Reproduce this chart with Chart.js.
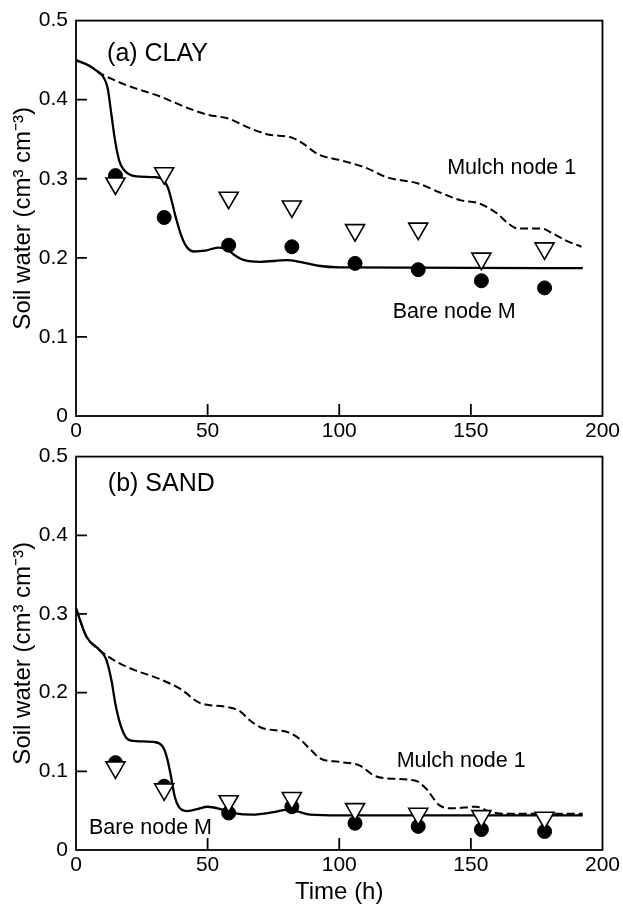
<!DOCTYPE html>
<html>
<head>
  <meta charset="utf-8">
  <title>Soil water</title>
  <script src="https://cdn.jsdelivr.net/npm/chart.js"></script>
  <style>
    body { margin: 0; background: #fff; }
    canvas { position: absolute; left: 0; }
    #clay { top: 0; }
    #sand { top: 436px; }
  </style>
</head>
<body>
  <canvas id="clay" width="623" height="450"></canvas>
  <canvas id="sand" width="623" height="471"></canvas>

  <script>
    // sampling times of the measured points (h)
    const obsTime = [15, 33.5, 58, 82, 106, 130, 154, 178];

    // (a) clay
    const clayBareObs  = [0.304, 0.251, 0.216, 0.214, 0.193, 0.185, 0.171, 0.162];
    const clayMulchObs = [0.294, 0.307, 0.276, 0.265, 0.235, 0.237, 0.199, 0.212];

    const clayMulchT = [0, 5, 9, 15, 22, 32, 42, 50, 58, 66, 73, 82, 86, 92, 101, 110, 118, 130, 138, 146, 153, 160, 164, 168, 177, 181, 186, 192];
    const clayMulchW = [0.450, 0.443, 0.434, 0.424, 0.415, 0.404, 0.390, 0.381, 0.376, 0.364, 0.356, 0.352, 0.345, 0.331, 0.323, 0.314, 0.302, 0.294, 0.283, 0.273, 0.269, 0.256, 0.244, 0.237, 0.237, 0.231, 0.222, 0.214];

    const clayBareT = [0, 5, 8, 10.5, 12, 13.5, 15, 16.5, 18, 20, 23, 30, 33, 35, 36.5, 38, 40, 42, 45, 49, 54, 57, 60, 64, 70, 80, 85, 92, 100, 192.5];
    const clayBareW = [0.450, 0.443, 0.436, 0.428, 0.415, 0.380, 0.345, 0.322, 0.312, 0.306, 0.303, 0.302, 0.299, 0.288, 0.270, 0.250, 0.228, 0.214, 0.208, 0.209, 0.213, 0.212, 0.204, 0.197, 0.195, 0.197, 0.195, 0.190, 0.188, 0.187];

    // (b) sand
    const sandBareObs  = [0.111, 0.081, 0.047, 0.055, 0.034, 0.030, 0.026, 0.0235];
    const sandMulchObs = [0.105, 0.077, 0.062, 0.066, 0.052, 0.046, 0.043, 0.041];

    const sandMulchT = [0, 4, 9, 15, 22, 32, 40, 47, 57, 62, 66, 70, 81, 85, 89, 93, 100, 108, 113, 118, 129, 133, 138, 143, 152, 157, 163, 192.5];
    const sandMulchW = [0.307, 0.271, 0.254, 0.240, 0.229, 0.217, 0.204, 0.187, 0.182, 0.177, 0.165, 0.156, 0.149, 0.141, 0.128, 0.116, 0.112, 0.107, 0.095, 0.091, 0.088, 0.078, 0.057, 0.053, 0.055, 0.049, 0.046, 0.046];

    const sandBareT = [0, 4, 9, 11.5, 13.5, 15, 17, 19, 21, 30, 33, 34.5, 36, 37.5, 39, 42, 46, 50, 55, 60, 67, 75, 80, 84, 89, 100, 192.5];
    const sandBareW = [0.307, 0.271, 0.254, 0.242, 0.215, 0.185, 0.158, 0.143, 0.139, 0.137, 0.131, 0.118, 0.095, 0.068, 0.055, 0.0495, 0.052, 0.055, 0.052, 0.047, 0.045, 0.048, 0.051, 0.049, 0.045, 0.044, 0.044];

    const FONT = "'Liberation Sans', Arial, Helvetica, sans-serif";

    const pts = (ts, ws) => ts.map((t, i) => ({ x: t, y: ws[i] }));

    // box around the plot area plus short ticks pointing inward
    const framePlugin = {
      id: 'frame',
      afterDatasetsDraw(chart) {
        const { ctx, chartArea: a, scales } = chart;
        ctx.save();
        ctx.strokeStyle = '#000';
        ctx.lineWidth = 1.8;
        ctx.strokeRect(a.left, a.top, a.right - a.left, a.bottom - a.top);
        ctx.beginPath();
        scales.y.ticks.forEach(t => {
          if (t.value <= scales.y.min || t.value >= scales.y.max) return;
          const y = scales.y.getPixelForValue(t.value);
          ctx.moveTo(a.left, y);
          ctx.lineTo(a.left + 11, y);
        });
        scales.x.ticks.forEach(t => {
          if (t.value <= scales.x.min || t.value >= scales.x.max) return;
          const x = scales.x.getPixelForValue(t.value);
          ctx.moveTo(x, a.bottom);
          ctx.lineTo(x, a.bottom - 12);
        });
        ctx.stroke();

        // text notes placed in data units
        ctx.fillStyle = '#000';
        ctx.textAlign = 'left';
        ctx.textBaseline = 'middle';
        (chart.options.plugins.frame.notes || []).forEach(n => {
          ctx.font = n.size + 'px ' + FONT;
          ctx.fillText(n.text, scales.x.getPixelForValue(n.x), scales.y.getPixelForValue(n.y));
        });
        ctx.restore();
      }
    };

    function makePanel(id, o) {
      return new Chart(document.getElementById(id), {
        type: 'scatter',
        data: {
          datasets: [
            {
              label: 'Mulch obs', data: pts(obsTime, o.mulchObs), order: 0,
              pointStyle: 'triangle', rotation: 180, pointRadius: 11, pointHoverRadius: 11,
              backgroundColor: '#fff', borderColor: '#000', borderWidth: 1.6
            },
            {
              label: 'Bare obs', data: pts(obsTime, o.bareObs), order: 1,
              pointStyle: 'circle', pointRadius: 7, pointHoverRadius: 7,
              backgroundColor: '#000', borderColor: '#000', borderWidth: 1
            },
            {
              label: 'Mulch node 1', data: o.mulchLine, order: 2, showLine: true,
              borderColor: '#000', borderWidth: 2, borderDash: [8, 4],
              pointRadius: 0, cubicInterpolationMode: 'monotone'
            },
            {
              label: 'Bare node M', data: o.bareLine, order: 3, showLine: true,
              borderColor: '#000', borderWidth: 2.3,
              pointRadius: 0, cubicInterpolationMode: 'monotone'
            }
          ]
        },
        options: {
          responsive: false,
          animation: false,
          events: [],
          layout: { padding: { top: 18, right: 20, left: 0, bottom: 0 } },
          plugins: {
            legend: { display: false },
            tooltip: { enabled: false },
            frame: { notes: o.notes }
          },
          scales: {
            x: {
              type: 'linear', min: 0, max: 200,
              grid: { display: false, drawTicks: false },
              border: { display: false },
              ticks: { stepSize: 50, padding: 3, color: '#000', font: { family: FONT, size: 21 } },
              title: {
                display: o.xTitle, text: 'Time (h)', color: '#000',
                font: { family: FONT, size: 24 }, padding: { top: 0, bottom: 0 }
              },
              afterFit(s) { s.height = o.xHeight; }
            },
            y: {
              min: 0, max: 0.5,
              grid: { display: false, drawTicks: false },
              border: { display: false },
              ticks: { stepSize: 0.1, padding: 8, color: '#000', font: { family: FONT, size: 21 } },
              title: {
                display: true, text: 'Soil water (cm³ cm⁻³)', color: '#000',
                font: { family: FONT, size: 24 }, padding: { top: 9, bottom: 0 }
              },
              afterFit(s) { s.width = 76; }
            }
          }
        },
        plugins: [framePlugin]
      });
    }

    makePanel('clay', {
      mulchObs: clayMulchObs, bareObs: clayBareObs,
      mulchLine: pts(clayMulchT, clayMulchW), bareLine: pts(clayBareT, clayBareW),
      xTitle: false, xHeight: 34,
      notes: [
        { text: '(a) CLAY', x: 11.8, y: 0.458, size: 25 },
        { text: 'Mulch node 1', x: 141, y: 0.313, size: 21.5 },
        { text: 'Bare node M', x: 120.3, y: 0.131, size: 21.5 }
      ]
    });

    makePanel('sand', {
      mulchObs: sandMulchObs, bareObs: sandBareObs,
      mulchLine: pts(sandMulchT, sandMulchW), bareLine: pts(sandBareT, sandBareW),
      xTitle: true, xHeight: 57,
      notes: [
        { text: '(b) SAND', x: 12.1, y: 0.465, size: 25 },
        { text: 'Mulch node 1', x: 121.8, y: 0.113, size: 21.5 },
        { text: 'Bare node M', x: 4.9, y: 0.028, size: 21.5 }
      ]
    });
  </script>
</body>
</html>
